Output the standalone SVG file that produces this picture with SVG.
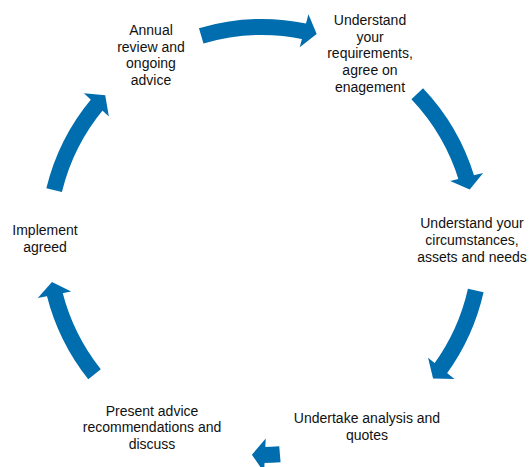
<svg xmlns="http://www.w3.org/2000/svg" width="529" height="467" viewBox="0 0 529 467">
<style>
.lbl{font-family:"Liberation Sans",Arial,sans-serif;font-size:14px;fill:#111;text-anchor:middle}
.shaft{fill:none;stroke:#006DAE;stroke-width:16}
.head{fill:#006DAE;stroke:none}
</style>
<defs>
<path id="ring" d="M214 0A214 214 0 0 1 -214 0A214 214 0 0 1 214 0"/>
<path id="tip" d="M197 -13L231 -13L214 0Z"/>
</defs>
<rect width="529" height="467" fill="#fff"/>
<g id="connectors">
  <g transform="translate(262 241)">
    <use href="#ring" class="shaft" transform="rotate(-106.5)" stroke-dasharray="105.7 1400"/>
    <use href="#tip" class="head" transform="rotate(-75.2)"/>
    <use href="#ring" class="shaft" transform="rotate(-43.5)" stroke-dasharray="99.4 1400"/>
    <use href="#tip" class="head" transform="rotate(-13.9)"/>
    <use href="#ring" class="shaft" transform="rotate(85.2)" stroke-dasharray="16.8 1400"/>
    <use href="#tip" class="head" transform="rotate(92.7)"/>
    <use href="#ring" class="shaft" transform="rotate(141.5)" stroke-dasharray="91.3 1400"/>
    <use href="#tip" class="head" transform="rotate(168.95)"/>
    <use href="#ring" class="shaft" transform="rotate(193.75)" stroke-dasharray="97.7 1400"/>
    <use href="#tip" class="head" transform="rotate(222.9)"/>
  </g>
  <g transform="translate(267 243.5)">
    <use href="#ring" class="shaft" transform="rotate(12.7)" stroke-dasharray="87.4 1400"/>
    <use href="#tip" class="head" transform="rotate(39.1)"/>
  </g>
</g>
<g id="node-annual-review">
  <text class="lbl"><tspan x="151" y="35">Annual</tspan><tspan x="151" y="52">review and</tspan><tspan x="151" y="68">ongoing</tspan><tspan x="151" y="85">advice</tspan></text>
</g>
<g id="node-requirements">
  <text class="lbl"><tspan x="370" y="25">Understand</tspan><tspan x="370" y="42">your</tspan><tspan x="370" y="58">requirements,</tspan><tspan x="370" y="75">agree on</tspan><tspan x="370" y="92">enagement</tspan></text>
</g>
<g id="node-circumstances">
  <text class="lbl"><tspan x="472" y="228">Understand your</tspan><tspan x="472" y="245">circumstances,</tspan><tspan x="472" y="262">assets and needs</tspan></text>
</g>
<g id="node-analysis">
  <text class="lbl"><tspan x="367" y="423">Undertake analysis and</tspan><tspan x="367" y="440">quotes</tspan></text>
</g>
<g id="node-present-advice">
  <text class="lbl"><tspan x="152" y="416">Present advice</tspan><tspan x="152" y="432">recommendations and</tspan><tspan x="152" y="449">discuss</tspan></text>
</g>
<g id="node-implement">
  <text class="lbl"><tspan x="45" y="235">Implement</tspan><tspan x="45" y="252">agreed</tspan></text>
</g>
</svg>
